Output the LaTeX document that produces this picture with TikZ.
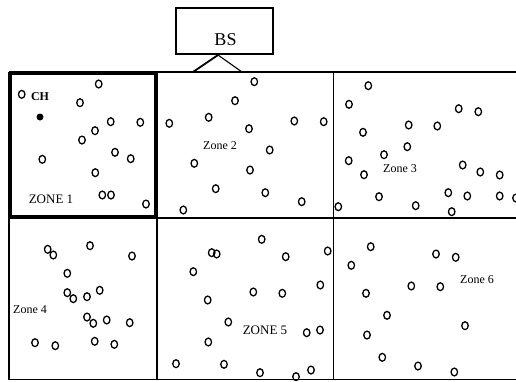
\documentclass[tikz,border=0pt]{standalone}
\usepackage{fontspec}
\setmainfont{Liberation Serif}
\usetikzlibrary{shapes.geometric}
\begin{document}
\begin{tikzpicture}[x=1pt,y=-1pt,
  sensor/.style={ellipse,draw,line width=1.3pt,inner sep=0pt,minimum width=6.5pt,minimum height=7.8pt},
  chnode/.style={circle,fill,inner sep=0pt,minimum size=7pt},
  lbl/.style={font=\fontsize{12}{12}\selectfont,inner sep=0.5pt,fill=white},
  biglbl/.style={font=\fontsize{13}{13}\selectfont,inner sep=0.5pt,fill=white},
  gridline/.style={line width=1.2pt},
  zonebox/.style={line width=3pt},
  bsbox/.style={draw,line width=1.8pt,minimum width=97pt,minimum height=46pt}]
\useasboundingbox (0,0) rectangle (516,381);
% grid
\draw[gridline] (9,72) -- (517,72);
\draw[gridline] (9,218) -- (517,218);
\draw[gridline] (9,379.5) -- (517,379.5);
\draw[gridline] (9,72) -- (9,379.5);
\draw[gridline] (157,72) -- (157,379.5);
\draw[gridline] (333.5,72) -- (333.5,379.5);
\draw[zonebox] (10.5,73.5) rectangle (155.5,216.5);
% base station
\node[bsbox] (bs) at (224.5,31) {};
\node[font=\fontsize{18}{18}\selectfont,inner sep=0pt] (bst) at (225.5,40) {BS};
\coordinate (apex) at (218,55);
\coordinate (bl) at (193,72);
\coordinate (br) at (242,72);
\draw[line width=1.8pt] (bl) -- (apex);
\draw[line width=1.1pt] (apex) -- (br);
% labels
\node[font=\fontsize{12}{12}\selectfont\bfseries,inner sep=0pt] (ch) at (40,97) {CH};
\node[chnode] (chdot) at (40,117) {};
\node[biglbl] (z1) at (51,199.5) {ZONE 1};
\node[lbl] (z2) at (220,146) {Zone 2};
\node[lbl] (z3) at (400,168.5) {Zone 3};
\node[lbl] (z4) at (30,310) {Zone 4};
\node[biglbl] (z5) at (265,330) {ZONE 5};
\node[lbl] (z6) at (477,280) {Zone 6};
% sensors
\foreach \px/\py [count=\i] in {
 21.7/94.3, 98.7/84, 80/102.7, 110.7/121.7, 140.3/122.3, 95/130.7, 82/140,
 42.3/159.3, 115/152.3, 130.7/158.7, 95.3/172.7, 102.3/195, 111/195, 146/204,
 254.3/81.7, 235/100.7, 208.7/117.3, 169.3/123.3, 249/128.7, 294.3/121, 323.7/121.7,
 269.7/150, 194.3/163.3, 250/170, 215.7/188.7, 265.3/192.7, 301.7/201.7, 183.3/210,
 368.3/85.7, 349/104.3, 458.7/108.7, 478.3/111.7, 363/132.3, 408.7/125, 437.3/126,
 407.3/146.7, 384/154.7, 348.7/160.7, 364/174.7, 462.7/165, 480.3/172, 499.7/175,
 379/196.7, 448.3/192.7, 467.3/196, 499.7/196, 415.7/205.7, 451.7/211.7, 338.3/206.7, 516/198,
 47.7/249.3, 53.3/255, 90/245.7, 132/256, 67.3/273.3, 67.3/292.7, 73.3/298.7, 87/296.7,
 99.7/290.3, 87/317, 93.3/323.3, 106.7/320, 129.7/322.7, 35/342.7, 55.3/345.7,
 94.7/341.3, 114.3/344.3,
 261.7/239.3, 211.7/252.7, 216.7/254, 285.7/256.7, 327.7/251, 193.3/271.7, 253.3/292,
 282.3/293.3, 320.3/285, 207.7/300, 228.3/322, 306.7/332.7, 320/330, 208.3/342,
 176/363.7, 224/364.3, 260/372.7, 296/376.7, 311/370,
 370.7/246.7, 351.3/265.3, 436/254, 455.7/257.3, 411.3/286, 440.3/286.7, 366/293.3,
 387/315.3, 465/325.7, 367/335, 382.3/357.3, 418/366, 454.3/372}
 \node[sensor] (s\i) at (\px,\py) {};
\end{tikzpicture}
\end{document}
